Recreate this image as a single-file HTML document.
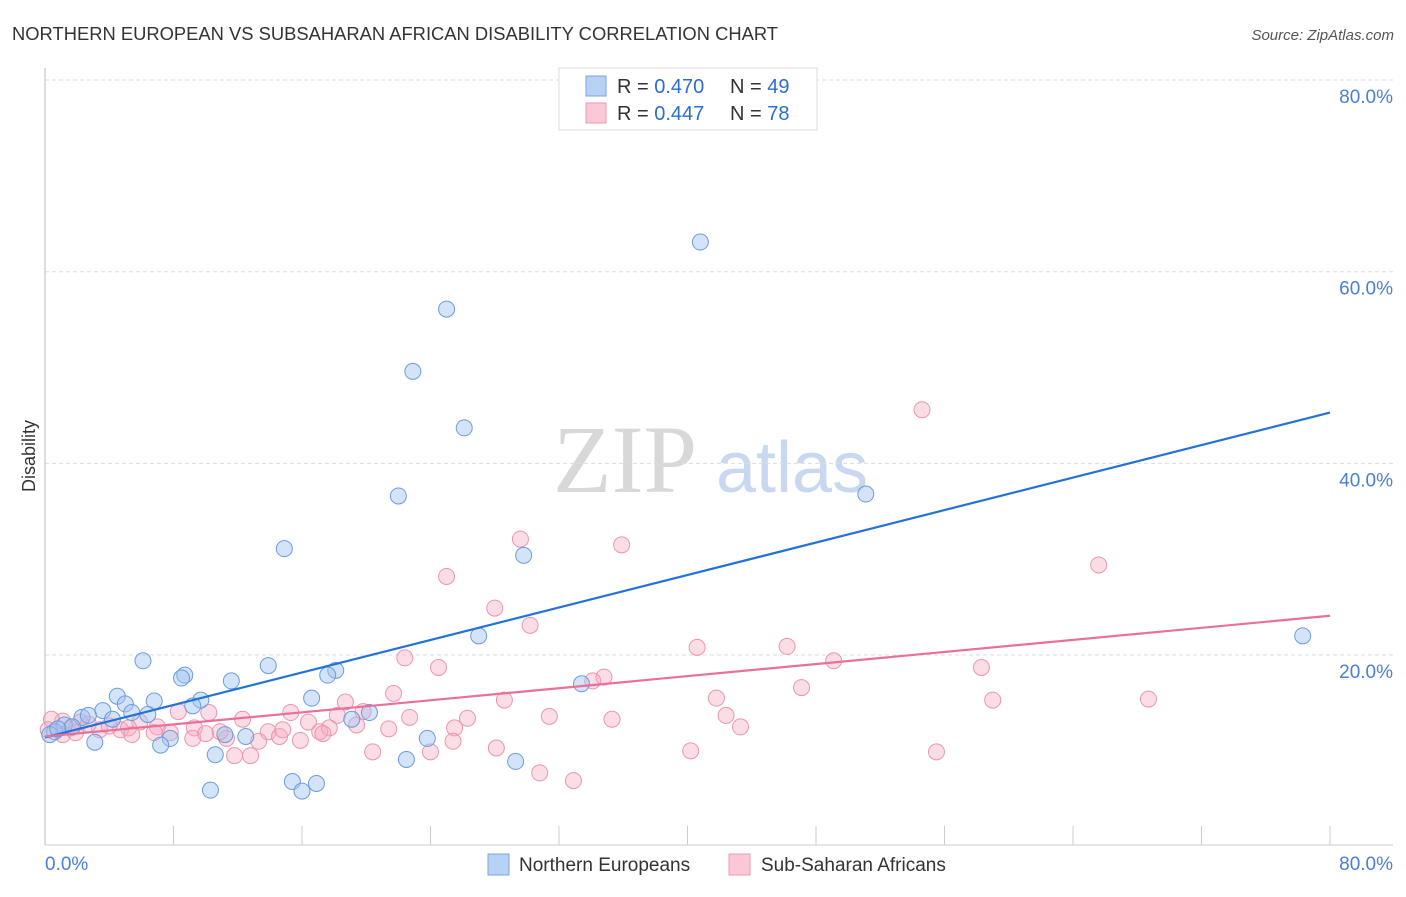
<!DOCTYPE html>
<html><head><meta charset="utf-8"><style>
body{margin:0;background:#fff;font-family:"Liberation Sans",sans-serif;}
</style></head><body>
<svg width="1406" height="892" xmlns="http://www.w3.org/2000/svg" style="font-family:'Liberation Sans',sans-serif">
<text x="12" y="40" font-size="18" fill="#333" textLength="766" lengthAdjust="spacingAndGlyphs">NORTHERN EUROPEAN VS SUBSAHARAN AFRICAN DISABILITY CORRELATION CHART</text>
<text x="1394" y="40" font-size="15" fill="#555" font-style="italic" text-anchor="end">Source: ZipAtlas.com</text>
<text x="553" y="492" font-size="96" fill="#d8d8d8" font-family="Liberation Serif,serif">ZIP</text>
<text x="716" y="492" font-size="72" fill="#c8d8f0">atlas</text>
<g id="grid"></g>
<line x1="45" y1="68" x2="45" y2="845" stroke="#bbb"/>
<line x1="45" y1="845" x2="1393" y2="845" stroke="#ccc"/>
<text x="35" y="456" font-size="18" fill="#333" transform="rotate(-90 35 456)" text-anchor="middle">Disability</text>
<text x="45" y="870" font-size="19" fill="#4a7fd8">0.0%</text>
<text x="1393" y="870" font-size="19" fill="#4a7fd8" text-anchor="end">80.0%</text>
<g id="pts"></g>
<g id="lines"></g>
<g>
<rect x="559" y="68" width="258" height="62" fill="#fff" stroke="#ddd"/>
<rect x="586" y="76" width="20" height="20" fill="#b8d2f5" stroke="#7aa6e4"/>
<rect x="586" y="103" width="20" height="20" fill="#fac8d6" stroke="#ee9ab2"/>
<text x="617" y="93" font-size="20" fill="#333">R = <tspan fill="#2a6dd6">0.470</tspan></text>
<text x="730" y="93" font-size="20" fill="#333">N = <tspan fill="#2a6dd6">49</tspan></text>
<text x="617" y="120" font-size="20" fill="#333">R = <tspan fill="#2a6dd6">0.447</tspan></text>
<text x="730" y="120" font-size="20" fill="#333">N = <tspan fill="#2a6dd6">78</tspan></text>
</g>
<g>
<rect x="488" y="854" width="21" height="21" fill="#b8d2f5" stroke="#7aa6e4"/>
<text x="519" y="871" font-size="19" fill="#333">Northern Europeans</text>
<rect x="729" y="854" width="21" height="21" fill="#fac8d6" stroke="#ee9ab2"/>
<text x="761" y="871" font-size="19" fill="#333">Sub-Saharan Africans</text>
</g>
</svg>
<script>
const yTicks=[20,40,60,80];
const xTicks=[0,8,16,24,32,40,48,56,64,72,80];
const blueX=[40.8,25.0,22.9,26.1,22.0,51.1,14.9,29.8,27.0,78.3,6.1,13.9,8.7,8.5,11.6,18.1,17.6,4.5,6.8,9.7,16.6,5.0,9.2,3.6,5.4,6.4,2.3,2.7,4.2,19.1,20.2,1.2,1.7,0.6,0.3,0.8,11.2,12.5,7.8,7.2,3.1,23.8,33.4,10.6,22.5,29.3,10.3,15.4,16.9,16.0];
const blueY=[63.1,56.1,49.6,43.7,36.6,36.8,31.1,30.4,22.0,22.0,19.4,18.9,17.9,17.6,17.3,18.4,17.9,15.7,15.2,15.3,15.5,14.9,14.7,14.2,14.0,13.8,13.5,13.7,13.3,13.3,14.0,12.7,12.5,12.0,11.7,12.3,11.7,11.5,11.3,10.6,10.9,11.3,17.0,9.6,9.1,8.9,5.9,6.8,6.6,5.8];
const pinkX=[54.6,65.6,29.6,35.9,25.0,28.0,30.2,40.6,46.2,49.1,22.4,24.5,58.3,28.6,21.7,18.7,41.8,59.0,68.7,47.1,34.8,34.1,15.3,18.2,19.8,22.7,26.3,31.4,35.3,42.4,43.3,8.3,10.2,12.3,5.9,2.2,1.6,3.4,4.7,7.0,9.3,13.9,16.4,17.1,17.7,19.4,21.4,25.5,14.6,13.3,11.3,9.2,6.8,5.2,2.7,1.1,0.4,0.2,15.9,20.4,25.4,24.0,28.1,40.2,55.5,11.8,12.8,30.8,32.9,4.0,7.8,5.4,14.8,17.3,1.1,1.9,10.0,10.9];
const pinkY=[45.6,29.4,32.1,31.5,28.2,24.9,23.1,20.8,20.9,19.4,19.7,18.7,18.7,15.3,16.0,15.1,15.5,15.3,15.4,16.6,17.7,17.3,14.0,13.7,14.1,13.5,13.4,13.6,13.3,13.7,12.5,14.1,14.0,13.3,13.0,13.0,12.4,12.2,12.2,12.5,12.4,12.0,13.0,12.0,12.4,12.7,12.3,12.4,11.5,11.0,11.3,11.3,11.9,12.4,12.8,13.1,13.3,12.2,11.1,9.9,11.0,9.9,10.3,10.0,9.9,9.5,9.5,7.7,6.9,12.6,11.9,11.7,12.2,11.8,11.7,11.9,11.8,12.0];
const blueTrend=[11.4,45.3];
const pinkTrend=[11.5,24.1];
const NS='http://www.w3.org/2000/svg';
const sx=v=>45+v*(1330-45)/80;
const sy=v=>846.7-v*9.583;
function mk(t,a,p){const e=document.createElementNS(NS,t);for(const k in a)e.setAttribute(k,a[k]);p.appendChild(e);return e;}
const grid=document.getElementById('grid');
yTicks.forEach(t=>{
 const l=mk('line',{x1:45,x2:1393,y1:sy(t),y2:sy(t),stroke:'#ddd','stroke-dasharray':'4 3'},grid);
 
 
 const tx=mk('text',{x:1393,y:sy(t)+23,'font-size':19,fill:'#4a7fd8','text-anchor':'end'},grid);
 tx.textContent=t.toFixed(1)+'%';
 
 
});
xTicks.forEach(t=>{
 const l=mk('line',{x1:sx(t),x2:sx(t),y1:826,y2:845,stroke:'#ccc'},grid);
 
 
});
const pts=document.getElementById('pts');
pinkX.forEach((x,i)=>{
 const c=mk('circle',{cx:sx(x),cy:sy(pinkY[i]),r:8,fill:'rgba(245,170,192,0.4)',stroke:'#eb95ae','stroke-width':1},pts);
 
 
});
blueX.forEach((x,i)=>{
 const c=mk('circle',{cx:sx(x),cy:sy(blueY[i]),r:8,fill:'rgba(160,196,240,0.45)',stroke:'#6b9be0','stroke-width':1},pts);
 
 
});
const lines=document.getElementById('lines');
const bl=mk('line',{x1:sx(0),y1:sy(blueTrend[0]),x2:sx(80),y2:sy(blueTrend[1]),stroke:'#2272d8','stroke-width':2.2},lines);


const pl=mk('line',{x1:sx(0),y1:sy(pinkTrend[0]),x2:sx(80),y2:sy(pinkTrend[1]),stroke:'#e8709a','stroke-width':2.2},lines);


</script>
</body></html>
